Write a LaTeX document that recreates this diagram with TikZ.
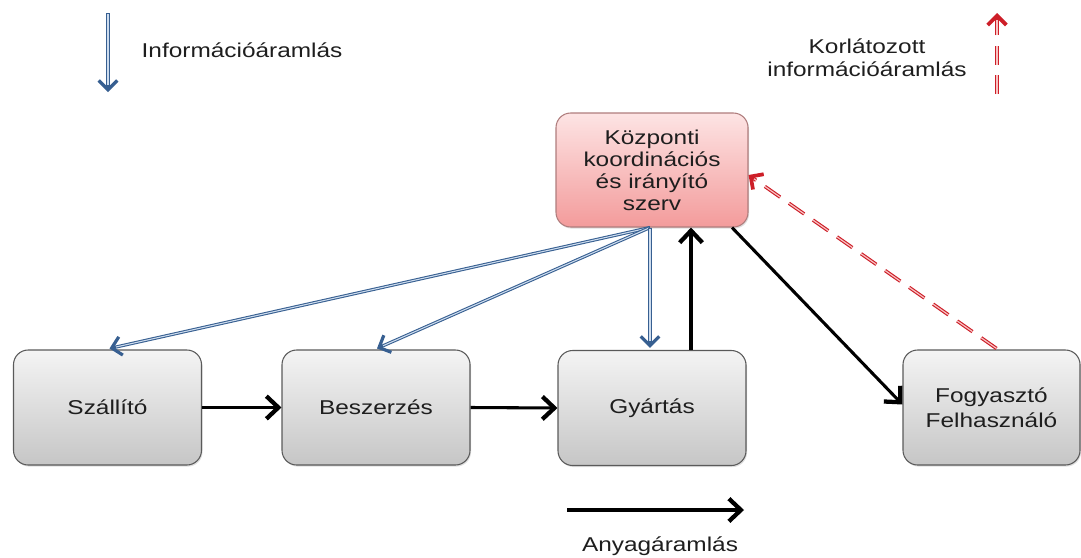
\documentclass[tikz,border=0pt]{standalone}
\usepackage{fontspec}
\usepackage{graphicx}
\setmainfont{Liberation Sans}
\usetikzlibrary{arrows.meta,shadows,calc}
\definecolor{txt}{RGB}{30,30,30}
\definecolor{boxtop}{RGB}{244,244,244}
\definecolor{boxbot}{RGB}{198,198,198}
\definecolor{boxline}{RGB}{90,90,90}
\definecolor{ktop}{RGB}{253,228,228}
\definecolor{kbot}{RGB}{243,155,155}
\definecolor{kline}{RGB}{175,125,125}
\definecolor{infoblue}{RGB}{55,95,145}
\definecolor{infolight}{RGB}{205,220,238}
\definecolor{infored}{RGB}{205,30,40}
\definecolor{redlight}{RGB}{248,195,195}
\newcommand{\hs}[1]{\scalebox{1.22}[1]{#1}}
\begin{document}
\begin{tikzpicture}[x=0.75pt,y=-0.75pt,
  box/.style={draw=boxline, line width=0.8pt, rounded corners=11pt,
    top color=boxtop, bottom color=boxbot, minimum width=141pt,
    minimum height=86.25pt, align=center, text=txt,
    font=\fontsize{15}{18.75}\selectfont,
    drop shadow={shadow xshift=0.8pt, shadow yshift=-1.2pt, opacity=0.25}},
  kbox/.style={box, draw=kline, top color=ktop, bottom color=kbot,
    minimum width=144pt, minimum height=85.5pt,
    font=\fontsize{15}{16.5}\selectfont},
  lbl/.style={text=txt, font=\fontsize{15}{17.5}\selectfont, align=center},
  mat/.style={draw=black, line width=2.3pt,
    -{Straight Barb[length=9pt, width=17pt, line width'=3.2pt]}},
  infoout/.style={draw=infoblue, line width=2.4pt,
    -{Straight Barb[length=7pt, width=14pt, line width'=2.4pt]}},
  infoin/.style={draw=infolight, line width=0.8pt, shorten >=5pt, shorten <=1pt},
  restrout/.style={draw=infored, line width=2.6pt,
    dash pattern=on 14pt off 8pt,
    -{Straight Barb[length=7pt, width=14pt, line width'=2.8pt]}},
  restrin/.style={draw=redlight, line width=0.9pt,
    dash pattern=on 14pt off 8pt, shorten >=5pt}
]
\useasboundingbox (0,0) rectangle (1081,557);

% boxes
\node[box] (S) at (107.5,407.5) {\hs{Szállító}};
\node[box] (B) at (376,407.5) {\hs{Beszerzés}};
\node[box] (G) at (652,408) {\hs{Gyártás}};
\node[box, minimum width=132.75pt] (F) at (991.5,407.5) {\hs{Fogyasztó}\\\hs{Felhasználó}};
\node[kbox] (K) at (652,170) {\hs{Központi}\\\hs{koordinációs}\\\hs{és irányító}\\\hs{szerv}};

% material flow
\draw[mat] (S.east) -- (B.west);
\draw[mat] (B.east) -- (G.west);
\draw[mat] ($(G.north)+(39,0)$) -- ($(K.south)+(39,0)$);
\draw[mat] ($(K.south)+(80,0)$) -- ($(F.west)+(0,-3)$);

% information flow (double line: outer + inner)
\draw[infoout] ($(K.south)+(-2,0)$) -- ($(S.north)+(2,-1)$);
\draw[infoin]  ($(K.south)+(-2,0)$) -- ($(S.north)+(2,-1)$);
\draw[infoout] ($(K.south)+(-2,0)$) -- ($(B.north)+(1,-1)$);
\draw[infoin]  ($(K.south)+(-2,0)$) -- ($(B.north)+(1,-1)$);
\draw[infoout] ($(K.south)+(-2,0)$) -- ($(G.north)+(-2,-2)$);
\draw[infoin]  ($(K.south)+(-2,0)$) -- ($(G.north)+(-2,-2)$);

% restricted information flow
\draw[restrout] ($(F.north)+(5,-1)$) -- ($(K.east)+(0,5)$);
\draw[restrin]  ($(F.north)+(5,-1)$) -- ($(K.east)+(0,5)$);

% legend
\coordinate (i1) at (108,13);
\coordinate (i2) at (108,92);
\draw[infoout] (i1) -- (i2);
\draw[infoin] (i1) -- (i2);
\node[lbl, anchor=west] (il) at (137,50) {\hs{Információáramlás}};

\coordinate (r1) at (997,94);
\coordinate (r2) at (997,13);
\draw[restrout] (r1) -- (r2);
\draw[restrin] (r1) -- (r2);
\node[lbl] (rl) at (867,58) {\hs{Korlátozott}\\\hs{információáramlás}};

\coordinate (a1) at (567,510);
\coordinate (a2) at (744,510);
\draw[mat] (a1) -- (a2);
\node[lbl] (al) at (660,546) {\hs{Anyagáramlás}};
\end{tikzpicture}
\end{document}
